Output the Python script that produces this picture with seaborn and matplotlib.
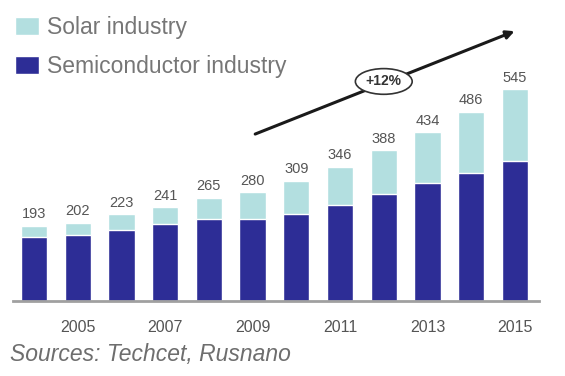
import matplotlib
matplotlib.use('Agg')
import matplotlib.pyplot as plt
import seaborn as sns
import pandas as pd

years = [2004, 2005, 2006, 2007, 2008, 2009, 2010, 2011, 2012, 2013, 2014, 2015]
totals = [193, 202, 223, 241, 265, 280, 309, 346, 388, 434, 486, 545]
semiconductor = [165, 169, 182, 197, 210, 210, 224, 248, 275, 303, 329, 360]
tick_years = [2005, 2007, 2009, 2011, 2013, 2015]

solar_color = "#b3dfe0"
semi_color = "#2d2d96"
text_gray = "#767676"

df = pd.DataFrame({"year": years, "total": totals, "semi": semiconductor})

sns.set_theme(style="white")
plt.rcParams['font.family'] = ['Liberation Sans', 'DejaVu Sans']

fig = plt.figure(figsize=(5.65, 3.76), dpi=100)
ax = fig.add_axes([13 / 565, 75 / 376, 526 / 565, 272 / 376])

sns.barplot(data=df, x="year", y="total", color=solar_color, width=0.6,
            saturation=1, ax=ax, label="Solar industry")
sns.barplot(data=df, x="year", y="semi", color=semi_color, width=0.6,
            saturation=1, ax=ax, label="Semiconductor industry")

ax.set_xlim(-0.48, 11.55)
ax.set_ylim(0, 700)

for i, v in enumerate(totals):
    ax.text(i, v + 12, str(v), ha="center", va="bottom", fontsize=10.5, color="#555555")

ax.set_xticks([years.index(y) for y in tick_years])
ax.set_xticklabels([str(y) for y in tick_years], fontsize=11.5, color="#555555")
ax.tick_params(axis="x", length=0, pad=14)
ax.set_yticks([])
ax.set_xlabel("")
ax.set_ylabel("")
for s in ["top", "right", "left"]:
    ax.spines[s].set_visible(False)
ax.spines["bottom"].set_color("#a0a0a0")
ax.spines["bottom"].set_linewidth(2)

# trend arrow
ax.annotate("", xy=(11.05, 697), xytext=(5.0, 427),
            arrowprops=dict(arrowstyle="-|>", color="#1a1a1a", lw=2.2,
                            mutation_scale=12),
            annotation_clip=False)
ax.text(8.0, 565, "+12%", ha="center", va="center", fontsize=10,
        fontweight="bold", color="#333333",
        bbox=dict(boxstyle="ellipse,pad=0.15", fc="white", ec="#333333", lw=1.2),
        clip_on=False)

handles, labels = ax.get_legend_handles_labels()
leg = fig.legend(handles, labels, loc="upper left", bbox_to_anchor=(6 / 565, 1 - 7 / 376),
                 frameon=False, fontsize=16.5, handlelength=1.05, handleheight=0.85,
                 handletextpad=0.35, labelspacing=0.7, borderaxespad=0)
for t in leg.get_texts():
    t.set_color(text_gray)
if ax.get_legend() is not None:
    ax.get_legend().remove()

fig.text(10 / 565, 1 - 355 / 376, "Sources: Techcet, Rusnano", fontsize=16.5,
         style="italic", color="#6e6e6e", va="center", ha="left")

fig.savefig("out.png", dpi=100)
